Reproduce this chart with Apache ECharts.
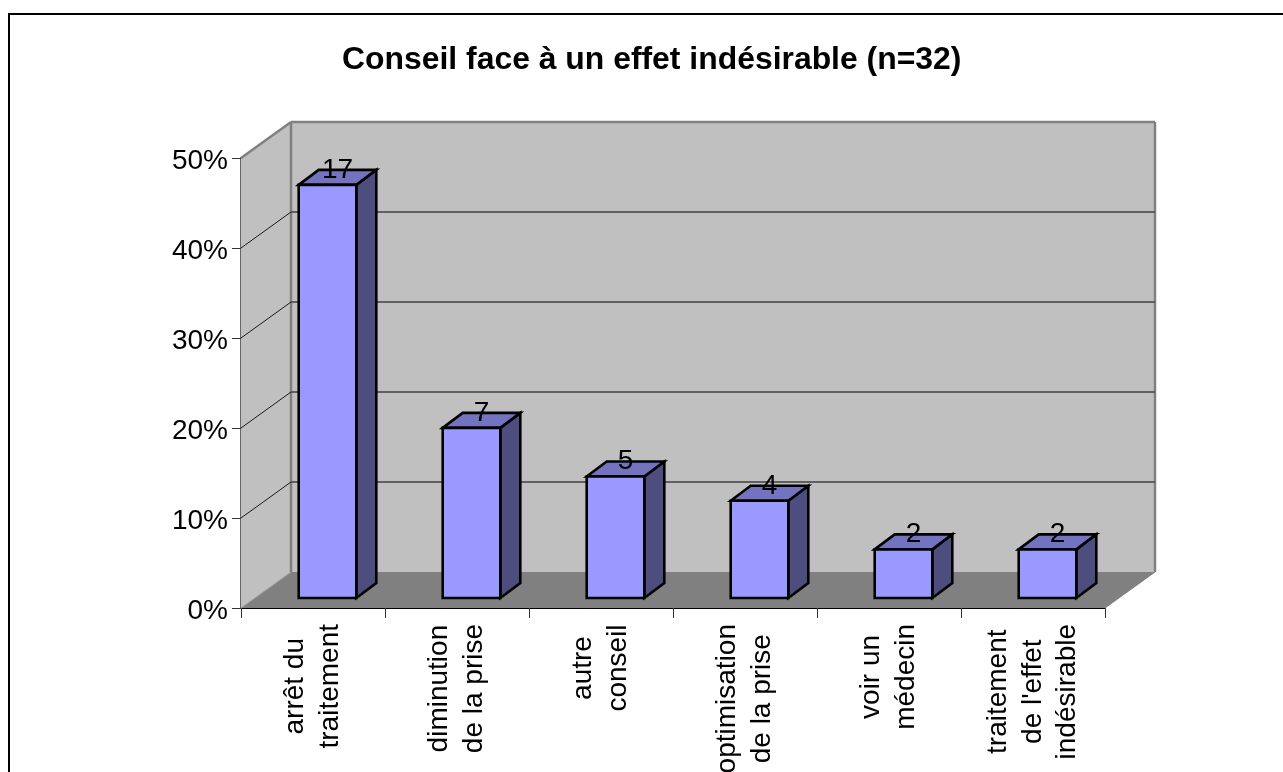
<!DOCTYPE html>
<html><head><meta charset="utf-8">
<style>html,body{margin:0;padding:0;background:#fff;overflow:hidden}#c{width:1283px;height:772px}</style>
<script src="https://cdn.jsdelivr.net/npm/echarts@6/dist/echarts.min.js"></script>
</head><body><div id="c"></div>
<script>
const categories = ["arrêt du\ntraitement","diminution\nde la prise","autre\nconseil","optimisation\nde la prise","voir un\nmédecin","traitement\nde l'effet\nindésirable"];
const percentValues = [45.9,18.9,13.5,10.8,5.4,5.4];
const countLabels = [17,7,5,4,2,2];
const yTicks = [10,20,30,40,50];
const FONT = '"Liberation Sans", Arial, sans-serif';
const FS = 28;
const wallD = [50,-36], barOff = [14.5,-10], barD = [20,-15];
const LABEL_CENTER_MARGIN = 60, LABEL_TOP_GAP = 16;
const chart = echarts.init(document.getElementById('c'),null,{renderer:'canvas'});
function poly(pts,fill,stroke,lw){return {type:'polygon',shape:{points:pts},style:{fill:fill,stroke:stroke||null,lineWidth:lw||0,lineJoin:'miter'}};}
function line(a,b,c,w){return {type:'line',shape:{x1:a[0],y1:a[1],x2:b[0],y2:b[1]},style:{stroke:c,lineWidth:w,fill:null}};}
function renderWalls(params,api){
  const r=params.coordSys, L=r.x,R=r.x+r.width,T=r.y,B=r.y+r.height, dx=wallD[0],dy=wallD[1];
  return {type:'group',children:[
    poly([[L+dx,T+dy],[R+dx,T+dy],[R+dx,B+dy],[L+dx,B+dy]],'#C0C0C0'),
    poly([[L,T],[L+dx,T+dy],[L+dx,B+dy],[L,B]],'#C0C0C0'),
    poly([[L,B],[R,B],[R+dx,B+dy],[L+dx,B+dy]],'#808080'),
    line([L,B],[L+dx,B+dy],'#A0A0A0',1),
    line([R,B],[R+dx,B+dy],'#808080',1),
    line([L+dx,T+dy],[L+dx,B+dy],'#808080',2.5),
    line([L+dx,T+dy],[R+dx,T+dy],'#808080',2.5),
    line([R+dx,T+dy],[R+dx,B+dy],'#808080',2.5),
    line([L,T],[L+dx,T+dy],'#808080',2.5)
  ]};
}
function renderGrid(params,api){
  const r=params.coordSys, y=api.coord([0,api.value(0)])[1], L=r.x,R=r.x+r.width;
  if(api.value(0)===50) return {type:'group',children:[]};
  const by=y+wallD[1];
  return {type:'group',children:[
    line([L,y],[L+wallD[0],y+wallD[1]],'#1a1a1a',1),
    line([L+wallD[0],by],[R+wallD[0],by],'#404040',1.5)
  ]};
}
function renderBar(params,api){
  const i=api.value(0), top=api.coord([i,api.value(1)]), bot=api.coord([i,0]);
  const band=api.size([1,0])[0], w=band/2.5;
  const x0=top[0]-w/2+barOff[0], x1=x0+w, yt=top[1]+barOff[1], yb=bot[1]+barOff[1];
  const ox=barD[0], oy=barD[1], bw=2.6, k='#000';
  return {type:'group',children:[
    poly([[x1,yt],[x1+ox,yt+oy],[x1+ox,yb+oy],[x1,yb]],'#4D4D80',k,bw),
    poly([[x0,yt],[x0+ox,yt+oy],[x1+ox,yt+oy],[x1,yt]],'#7373BF',k,bw),
    poly([[x0,yt],[x1,yt],[x1,yb],[x0,yb]],'#9999FF',k,bw)
  ]};
}
function renderLabel(params,api){
  const i=api.value(0), top=api.coord([i,api.value(1)]);
  return {type:'text',x:top[0]+barOff[0]+10,y:top[1]+barOff[1]-15,z2:10,
    style:{text:String(api.value(2)),font:FS+'px '+FONT,fill:'#000',textAlign:'center',textVerticalAlign:'middle'}};
}
// Labels hang from a common top edge: each centred block is shifted by half its longest line.
const measure = document.createElement('canvas').getContext('2d');
measure.font = FS+'px '+FONT;
const categoryItems = categories.map(text=>{
  const longest = Math.max(...text.split('\n').map(s=>measure.measureText(s).width));
  const shift = Math.max(0, LABEL_TOP_GAP + longest/2 - LABEL_CENTER_MARGIN);
  return {value:text,textStyle:{align:'center',verticalAlign:'middle',padding:[0,2*shift,0,0]}};
});
const barData = percentValues.map((v,i)=>[i,v,countLabels[i]]);
chart.setOption({
  animation:false,
  backgroundColor:'#fff',
  title:{text:'Conseil face à un effet indésirable (n=32)',left:342,top:44,padding:0,
    textStyle:{fontFamily:FONT,fontWeight:'bold',fontSize:31.9,color:'#000'}},
  graphic:[{type:'rect',left:8,top:13,z:-1,shape:{width:1320,height:820},style:{fill:'#fff',stroke:'#000',lineWidth:2}}],
  grid:{left:241,right:178,top:158,bottom:164,containLabel:false,outerBoundsMode:'none'},
  xAxis:{type:'category',data:categoryItems,
    axisLine:{show:true,lineStyle:{color:'#000',width:1}},
    axisTick:{show:true,length:10,lineStyle:{color:'#333',width:1}},
    axisLabel:{rotate:90,interval:0,margin:LABEL_CENTER_MARGIN,fontFamily:FONT,fontSize:FS,color:'#000',lineHeight:34.5,align:'center',verticalAlign:'middle'},
    splitLine:{show:false}},
  yAxis:{type:'value',min:0,max:50,interval:10,
    axisLine:{show:true,lineStyle:{color:'#666',width:2}},
    axisTick:{show:true,length:9,lineStyle:{color:'#333',width:1}},
    axisLabel:{formatter:'{value}%',margin:13,verticalAlign:'bottom',lineHeight:24,fontFamily:FONT,fontSize:FS,color:'#000',padding:[0,0,-15,0]},
    splitLine:{show:false}},
  series:[
    {type:'custom',z:1,silent:true,data:[[0]],renderItem:renderWalls,encode:{x:0},clip:false},
    {type:'custom',z:2,silent:true,data:yTicks.map(v=>[v]),renderItem:renderGrid,encode:{y:0},clip:false},
    {type:'custom',z:3,silent:true,data:barData,renderItem:renderBar,encode:{x:0,y:1},clip:false},
    {type:'custom',z:4,silent:true,data:barData,renderItem:renderLabel,encode:{x:0,y:1},clip:false}
  ]
});
</script></body></html>
